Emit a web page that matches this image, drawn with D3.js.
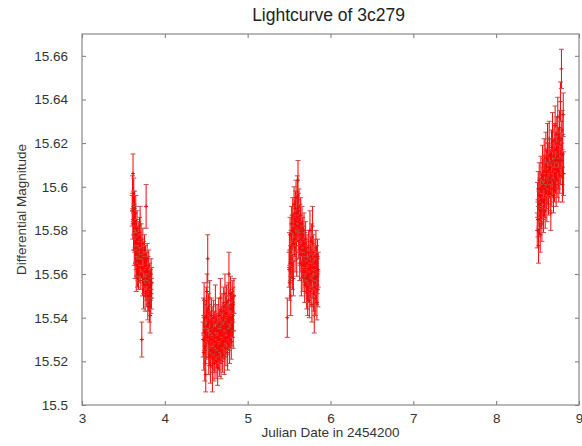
<!DOCTYPE html>
<html>
<head>
<meta charset="utf-8">
<script src="https://cdn.jsdelivr.net/npm/d3@7"></script>
<style>
  body { margin: 0; background: #fff; }
  text { font-family: "Liberation Sans", Arial, sans-serif; }
</style>
</head>
<body>
<svg id="chart" width="582" height="446"></svg>
<script>
// [julian date - 2454200, differential magnitude, error]
const night1 = [
  [3.606, 15.589, .007], [3.610, 15.597, .008], [3.613, 15.583, .007], [3.616, 15.606, .009],
  [3.619, 15.591, .007], [3.622, 15.578, .007], [3.625, 15.596, .008], [3.628, 15.585, .007],
  [3.631, 15.571, .007], [3.634, 15.590, .008], [3.637, 15.577, .007], [3.640, 15.565, .007],
  [3.643, 15.584, .007], [3.646, 15.572, .007], [3.649, 15.588, .008], [3.652, 15.569, .007],
  [3.655, 15.559, .007], [3.658, 15.578, .007], [3.661, 15.566, .007], [3.664, 15.581, .008],
  [3.667, 15.570, .007], [3.670, 15.561, .007], [3.673, 15.575, .007], [3.676, 15.564, .007],
  [3.679, 15.572, .007], [3.682, 15.560, .007], [3.686, 15.576, .008], [3.690, 15.566, .007],
  [3.694, 15.579, .007], [3.698, 15.563, .007], [3.702, 15.583, .008], [3.706, 15.571, .007],
  [3.710, 15.560, .007], [3.714, 15.576, .007], [3.718, 15.565, .007], [3.722, 15.530, .008],
  [3.726, 15.569, .007], [3.730, 15.557, .007], [3.734, 15.574, .007], [3.738, 15.562, .007],
  [3.742, 15.551, .007], [3.746, 15.568, .007], [3.750, 15.558, .007], [3.754, 15.571, .007],
  [3.758, 15.561, .007], [3.762, 15.550, .007], [3.766, 15.566, .007], [3.770, 15.555, .007],
  [3.774, 15.591, .010], [3.778, 15.563, .007], [3.782, 15.552, .007], [3.786, 15.567, .007],
  [3.790, 15.556, .007], [3.794, 15.546, .007], [3.798, 15.561, .007], [3.802, 15.550, .007],
  [3.806, 15.564, .007], [3.810, 15.553, .007], [3.814, 15.545, .007], [3.818, 15.558, .007],
  [3.822, 15.541, .008], [3.826, 15.555, .007], [3.830, 15.549, .007], [3.834, 15.560, .007],
  [3.838, 15.551, .007], [3.842, 15.556, .007]
];

const night2 = [
  [4.462, 15.530, .008], [4.466, 15.541, .008], [4.470, 15.524, .008], [4.474, 15.548, .008],
  [4.478, 15.533, .008], [4.482, 15.519, .008], [4.486, 15.540, .008], [4.490, 15.527, .008],
  [4.494, 15.514, .008], [4.498, 15.536, .008], [4.502, 15.546, .008], [4.506, 15.529, .008],
  [4.510, 15.552, .008], [4.514, 15.537, .008], [4.518, 15.567, .011], [4.522, 15.531, .008],
  [4.526, 15.543, .008], [4.530, 15.522, .008], [4.534, 15.538, .008], [4.538, 15.526, .008],
  [4.542, 15.549, .008], [4.546, 15.533, .008], [4.550, 15.518, .008], [4.554, 15.535, .008],
  [4.558, 15.525, .008], [4.562, 15.541, .008], [4.566, 15.529, .008], [4.570, 15.537, .008],
  [4.574, 15.515, .009], [4.578, 15.532, .008], [4.582, 15.524, .008], [4.586, 15.540, .008],
  [4.590, 15.527, .008], [4.594, 15.519, .008], [4.598, 15.535, .008], [4.602, 15.523, .008],
  [4.606, 15.531, .008], [4.610, 15.546, .009], [4.614, 15.528, .008], [4.618, 15.520, .008],
  [4.622, 15.534, .008], [4.626, 15.525, .008], [4.630, 15.538, .008], [4.634, 15.529, .008],
  [4.638, 15.517, .008], [4.642, 15.533, .008], [4.646, 15.524, .008], [4.650, 15.541, .008],
  [4.654, 15.530, .008], [4.658, 15.521, .008], [4.662, 15.536, .008], [4.666, 15.527, .008],
  [4.670, 15.549, .009], [4.674, 15.532, .008], [4.678, 15.520, .008], [4.682, 15.537, .008],
  [4.686, 15.528, .008], [4.690, 15.543, .008], [4.694, 15.531, .008], [4.698, 15.523, .008],
  [4.702, 15.539, .008], [4.706, 15.529, .008], [4.710, 15.546, .008], [4.714, 15.534, .008],
  [4.718, 15.522, .008], [4.722, 15.538, .008], [4.726, 15.551, .009], [4.730, 15.530, .008],
  [4.734, 15.542, .008], [4.738, 15.526, .008], [4.742, 15.536, .008], [4.746, 15.547, .008],
  [4.750, 15.531, .008], [4.754, 15.540, .008], [4.758, 15.524, .008], [4.762, 15.535, .008],
  [4.766, 15.548, .008], [4.770, 15.533, .008], [4.774, 15.560, .010], [4.778, 15.538, .008],
  [4.782, 15.527, .008], [4.786, 15.545, .008], [4.790, 15.534, .008], [4.794, 15.551, .008],
  [4.798, 15.537, .008], [4.802, 15.529, .008], [4.806, 15.544, .008], [4.810, 15.535, .008],
  [4.814, 15.549, .008], [4.818, 15.539, .008], [4.822, 15.546, .008], [4.826, 15.534, .008],
  [4.830, 15.542, .008], [4.834, 15.550, .008]
];

const night3 = [
  [5.478, 15.540, .009], [5.500, 15.562, .008], [5.504, 15.571, .008], [5.508, 15.556, .008],
  [5.512, 15.578, .008], [5.516, 15.565, .008], [5.520, 15.550, .009], [5.524, 15.572, .008],
  [5.528, 15.583, .008], [5.532, 15.566, .008], [5.536, 15.579, .008], [5.540, 15.561, .008],
  [5.544, 15.587, .008], [5.548, 15.574, .008], [5.552, 15.558, .008], [5.556, 15.580, .008],
  [5.560, 15.592, .008], [5.564, 15.576, .008], [5.568, 15.586, .008], [5.572, 15.569, .008],
  [5.576, 15.590, .008], [5.580, 15.578, .008], [5.584, 15.595, .008], [5.588, 15.581, .008],
  [5.592, 15.567, .008], [5.596, 15.588, .008], [5.600, 15.597, .008], [5.604, 15.583, .008],
  [5.608, 15.603, .009], [5.612, 15.589, .008], [5.616, 15.575, .008], [5.620, 15.591, .008],
  [5.624, 15.579, .008], [5.628, 15.565, .008], [5.632, 15.584, .008], [5.636, 15.572, .008],
  [5.640, 15.587, .008], [5.644, 15.569, .008], [5.648, 15.558, .008], [5.652, 15.576, .008],
  [5.656, 15.583, .008], [5.660, 15.566, .008], [5.664, 15.578, .008], [5.668, 15.560, .008],
  [5.672, 15.574, .008], [5.676, 15.564, .008], [5.680, 15.580, .008], [5.684, 15.568, .008],
  [5.688, 15.555, .008], [5.692, 15.571, .008], [5.696, 15.562, .008], [5.700, 15.576, .008],
  [5.704, 15.559, .008], [5.708, 15.567, .008], [5.712, 15.552, .008], [5.716, 15.570, .008],
  [5.720, 15.558, .008], [5.724, 15.549, .008], [5.728, 15.565, .008], [5.732, 15.555, .008],
  [5.736, 15.572, .008], [5.740, 15.560, .008], [5.744, 15.548, .008], [5.748, 15.563, .008],
  [5.752, 15.580, .009], [5.756, 15.557, .008], [5.760, 15.569, .008], [5.764, 15.553, .008],
  [5.768, 15.575, .008], [5.772, 15.561, .008], [5.776, 15.546, .008], [5.780, 15.566, .008],
  [5.784, 15.582, .009], [5.788, 15.557, .008], [5.792, 15.570, .008], [5.796, 15.551, .008],
  [5.800, 15.563, .008], [5.804, 15.541, .008], [5.808, 15.558, .008], [5.812, 15.568, .008],
  [5.816, 15.549, .008], [5.820, 15.561, .008], [5.824, 15.572, .008], [5.828, 15.554, .008],
  [5.832, 15.565, .008], [5.836, 15.547, .008], [5.840, 15.559, .008], [5.844, 15.568, .008],
  [5.848, 15.553, .008], [5.852, 15.562, .008]
];

const night4 = [
  [8.496, 15.580, .008], [8.500, 15.594, .008], [8.504, 15.585, .008], [8.508, 15.599, .008],
  [8.512, 15.573, .008], [8.516, 15.590, .008], [8.520, 15.603, .008], [8.524, 15.586, .008],
  [8.528, 15.596, .008], [8.532, 15.578, .008], [8.536, 15.592, .008], [8.540, 15.606, .008],
  [8.544, 15.589, .008], [8.548, 15.598, .008], [8.552, 15.583, .008], [8.556, 15.601, .008],
  [8.560, 15.611, .008], [8.564, 15.593, .008], [8.568, 15.605, .008], [8.572, 15.587, .008],
  [8.576, 15.600, .008], [8.580, 15.614, .008], [8.584, 15.594, .008], [8.588, 15.606, .008],
  [8.592, 15.589, .008], [8.596, 15.603, .008], [8.600, 15.617, .008], [8.604, 15.598, .008],
  [8.608, 15.609, .008], [8.612, 15.592, .008], [8.616, 15.604, .008], [8.620, 15.620, .009],
  [8.624, 15.600, .008], [8.628, 15.612, .008], [8.632, 15.595, .008], [8.636, 15.607, .008],
  [8.640, 15.622, .008], [8.644, 15.603, .008], [8.648, 15.614, .008], [8.652, 15.597, .008],
  [8.656, 15.609, .008], [8.660, 15.588, .008], [8.664, 15.604, .008], [8.668, 15.618, .008],
  [8.672, 15.599, .008], [8.676, 15.611, .008], [8.680, 15.625, .009], [8.684, 15.603, .008],
  [8.688, 15.614, .008], [8.692, 15.596, .008], [8.696, 15.609, .008], [8.700, 15.621, .008],
  [8.704, 15.601, .008], [8.708, 15.612, .008], [8.712, 15.628, .009], [8.716, 15.605, .008],
  [8.720, 15.617, .008], [8.724, 15.599, .008], [8.728, 15.611, .008], [8.732, 15.624, .008],
  [8.736, 15.603, .008], [8.740, 15.615, .008], [8.744, 15.632, .009], [8.748, 15.607, .008],
  [8.752, 15.619, .008], [8.756, 15.601, .008], [8.760, 15.613, .008], [8.764, 15.627, .008],
  [8.768, 15.605, .008], [8.772, 15.617, .008], [8.776, 15.639, .009], [8.780, 15.609, .008],
  [8.784, 15.622, .008], [8.788, 15.654, .009], [8.792, 15.612, .008], [8.796, 15.626, .009],
  [8.800, 15.601, .008], [8.804, 15.615, .009], [8.810, 15.633, .010], [8.814, 15.606, .010]
];

const xTicks = [3, 4, 5, 6, 7, 8, 9];
const yTicks = [15.5, 15.52, 15.54, 15.56, 15.58, 15.6, 15.62, 15.64, 15.66];

const svg = d3.select('#chart');
const margin = { top: 34, right: 3, bottom: 41, left: 82 };
const width = 582 - margin.left - margin.right;
const height = 446 - margin.top - margin.bottom;

const chart = svg.append('g')
  .attr('transform', `translate(${margin.left}, ${margin.top})`);

const xScale = d3.scaleLinear().domain([3, 9]).range([0, width]);
const yScale = d3.scaleLinear().domain([15.5, 15.67]).range([height, 0]);

// axes with inward ticks, mirrored on top / right
const fmtY = d => d3.format('.2f')(d).replace(/0$/, '').replace(/\.$/, '');
const styleAxis = g => {
  g.select('.domain').remove();
  g.selectAll('.tick line').attr('stroke', '#777');
  g.selectAll('.tick text').attr('fill', '#333').attr('font-size', '13.5px')
    .attr('font-family', '"Liberation Sans", Arial, sans-serif');
};

chart.append('g')
  .attr('transform', `translate(0, ${height})`)
  .call(d3.axisBottom(xScale).tickValues(xTicks).tickSize(-4).tickPadding(8).tickFormat(d3.format('d')))
  .call(styleAxis);

chart.append('g')
  .call(d3.axisTop(xScale).tickValues(xTicks).tickSize(-4).tickFormat(''))
  .call(styleAxis);

chart.append('g')
  .call(d3.axisLeft(yScale).tickValues(yTicks).tickSize(-4).tickPadding(14).tickFormat(fmtY))
  .call(styleAxis);

chart.append('g')
  .attr('transform', `translate(${width}, 0)`)
  .call(d3.axisRight(yScale).tickValues(yTicks).tickSize(-4).tickFormat(''))
  .call(styleAxis);

chart.append('rect')
  .attr('width', width)
  .attr('height', height)
  .attr('fill', 'none')
  .attr('stroke', '#888')
  .attr('stroke-width', 1.2);

// error bars
const data = [...night1, ...night2, ...night3, ...night4];
const plot = chart.append('g');
const cap = 2.5;

const bars = plot.selectAll('g.pt')
  .data(data)
  .enter()
  .append('g')
  .attr('class', 'pt');

bars.append('line')
  .attr('x1', d => xScale(d[0]))
  .attr('x2', d => xScale(d[0]))
  .attr('y1', d => yScale(d[1] - d[2]))
  .attr('y2', d => yScale(d[1] + d[2]))
  .attr('stroke', '#ff0000')
  .attr('stroke-width', 1);

bars.append('path')
  .attr('d', d => {
    const x = xScale(d[0]);
    const lo = yScale(d[1] - d[2]);
    const hi = yScale(d[1] + d[2]);
    return `M${x - cap},${lo}H${x + cap}M${x - cap},${hi}H${x + cap}`;
  })
  .attr('stroke', '#c05050')
  .attr('stroke-width', 1);

bars.append('path')
  .attr('d', d => {
    const x = xScale(d[0]);
    const y = yScale(d[1]);
    return `M${x - 2},${y}H${x + 2}M${x},${y - 2}V${y + 2}`;
  })
  .attr('stroke', '#e01010')
  .attr('stroke-width', 1);

// labels
svg.append('text')
  .attr('x', margin.left + width / 2 - 2)
  .attr('y', 21)
  .attr('text-anchor', 'middle')
  .attr('font-size', '17.5px')
  .attr('fill', '#222')
  .text('Lightcurve of 3c279');

svg.append('text')
  .attr('x', margin.left + width / 2)
  .attr('y', 437)
  .attr('text-anchor', 'middle')
  .attr('font-size', '13.5px')
  .attr('fill', '#333')
  .text('Julian Date in 2454200');

svg.append('text')
  .attr('transform', 'rotate(-90)')
  .attr('x', -(margin.top + height / 2) + 10)
  .attr('y', 26)
  .attr('text-anchor', 'middle')
  .attr('font-size', '13.5px')
  .attr('fill', '#333')
  .text('Differential Magnitude');
</script>
</body>
</html>
